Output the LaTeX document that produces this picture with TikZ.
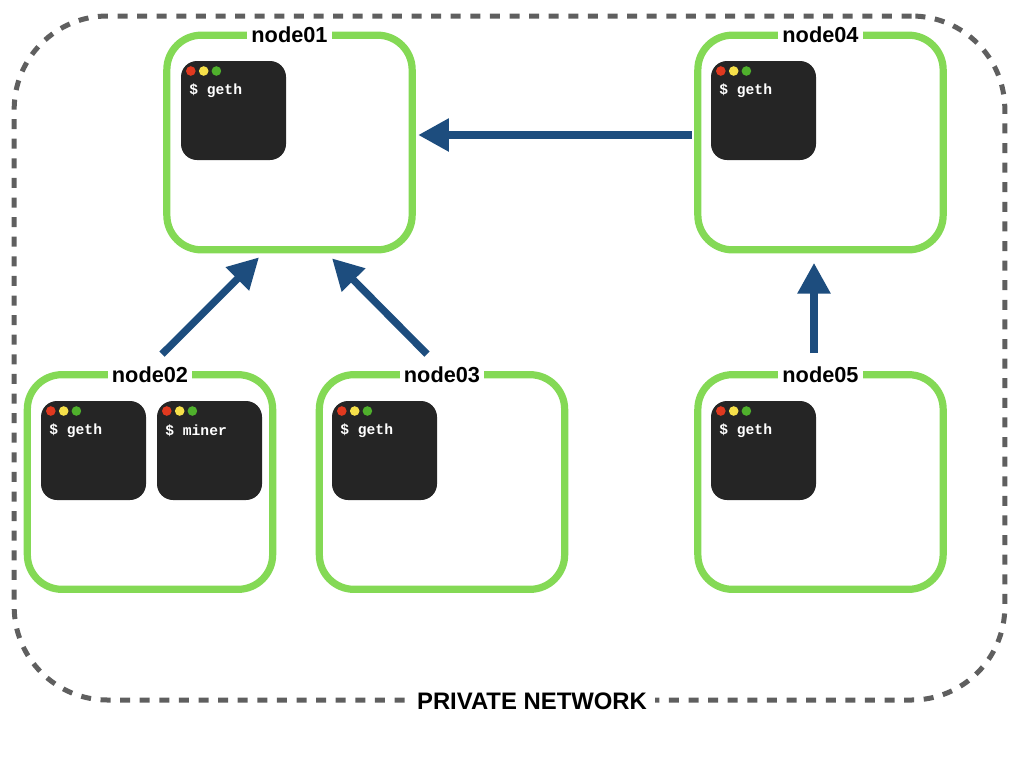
\documentclass[tikz,border=0pt]{standalone}
\usepackage{fontspec}
\setmainfont{Liberation Sans}
\newfontfamily\termfont{Liberation Mono}
\usetikzlibrary{arrows.meta}
\definecolor{hostgreen}{HTML}{84D955}
\definecolor{linkblue}{HTML}{1D4D7E}
\definecolor{netgray}{HTML}{5F5F5F}
\definecolor{termblack}{HTML}{252525}
\definecolor{dotred}{HTML}{E0391F}
\definecolor{dotyellow}{HTML}{F6E04A}
\definecolor{dotgreen}{HTML}{4FB02C}
\tikzset{
    network/.style={draw=netgray, line width=3.75pt, dash pattern=on 7.5pt off 7.2pt, rounded corners=70pt,
        minimum width=743pt, minimum height=513pt, inner sep=0pt, outer sep=0pt},
    host/.style={draw=hostgreen, line width=5.4pt, rounded corners=26pt,
        minimum width=184pt, minimum height=161pt, inner sep=0pt, outer sep=0pt},
    hostlabel/.style={fill=white, font=\bfseries\fontsize{16.3}{18}\selectfont, inner xsep=3pt, inner ysep=0pt},
    netlabel/.style={fill=white, font=\bfseries\fontsize{17.9}{20}\selectfont, inner xsep=6pt, inner ysep=1pt},
    term/.style={fill=termblack, rounded corners=12pt, anchor=north west,
        minimum width=78.75pt, minimum height=74.25pt, inner sep=0pt, outer sep=0pt},
    prompt/.style={text=white, anchor=west, inner sep=0pt, font=\termfont\bfseries\fontsize{11}{13}\selectfont},
    link/.style={draw=linkblue, line width=5.5pt, -{Triangle[length=23pt, width=23.5pt]}}
}
\begin{document}
\begin{tikzpicture}[x=0.75pt, y=-0.75pt]
    \useasboundingbox (0,0) rectangle (1024,768);
    % Private network outline
    \node[network] (net) at (509.5,358) {};
    \node[netlabel] (netname) at (532,701) {PRIVATE NETWORK};
    % Hosts
    \foreach \name/\x/\y in {node01/289.5/142.5, node02/150/482, node03/442/482, node04/820.5/142.5, node05/820.5/482} {
        \node[host] (\name) at (\x,\y) {};
        \node[hostlabel] (\name label) at (\name.north) {\name};
    }
    % Terminal windows
    \foreach \name/\x/\y/\cmd in {termA/181/61/geth, termB/41/401/geth, termC/157/401/miner, termD/332/401/geth, termE/711/61/geth, termF/711/401/geth} {
        \node[term] (\name) at (\x,\y) {};
        \fill[dotred] ([shift={(9.8,10)}]\name.north west) circle (3.6pt);
        \fill[dotyellow] ([shift={(22.7,10)}]\name.north west) circle (3.6pt);
        \fill[dotgreen] ([shift={(35.4,10)}]\name.north west) circle (3.6pt);
        \node[prompt] (\name text) at ([shift={(8,29.5)}]\name.north west) {\$ \cmd};
    }
    % Links between hosts
    \draw[link] ([shift={(-6,-7.5)}]node04.west) -- ([shift={(6,-7.5)}]node01.east);
    \draw[link] ([shift={(12,-20.5)}]node02.north) -- ([shift={(-30.5,7.5)}]node01.south);
    \draw[link] ([shift={(-15,-20.5)}]node03.north) -- ([shift={(42.5,8.5)}]node01.south);
    \draw[link] ([shift={(-6.5,-21.5)}]node05.north) -- ([shift={(-6.5,13)}]node04.south);
\end{tikzpicture}
\end{document}
